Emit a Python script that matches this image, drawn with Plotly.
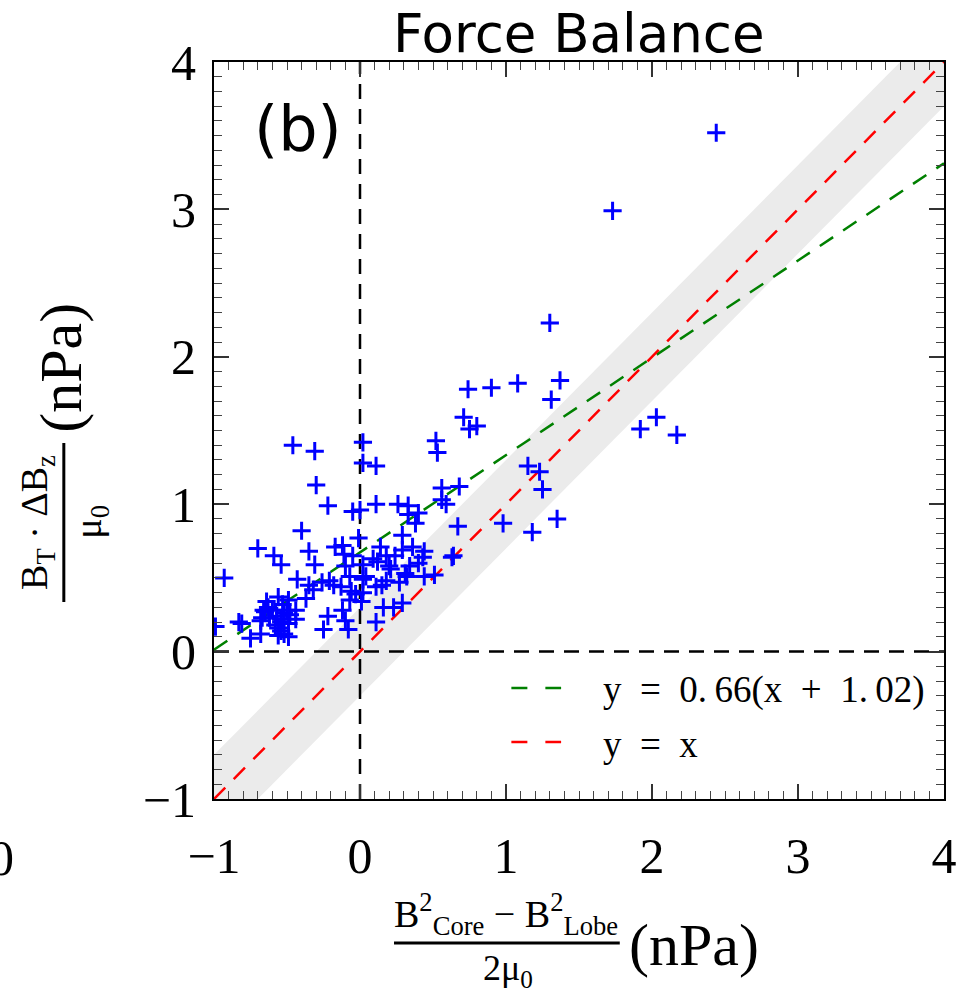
import plotly.graph_objects as go

# ---- data ----
x_vals = [
    -0.46, -0.31, 0.02, 0.02, 0.11, 0.52, 0.53, -0.30, -0.22, -0.05,
    0.00, 0.11, 0.26, 0.33, 0.33, 0.40, 0.38, 0.56, 0.56, 0.59,
    0.68, -0.40, 0.29, -0.01, -0.70, -0.59, -0.54, -0.35, -0.31, -0.17,
    -0.12, -0.11, 0.14, 0.29, 0.36, 0.44, 0.18, 0.24, 0.40, 0.43,
    -0.93, -0.43, -0.10, -0.05, 0.02, 0.09, 0.12, 0.04, 0.20, 0.21,
    0.31, 0.34, 0.44, 0.51, 0.63, -0.07, -0.35, -0.32, -0.26, -0.21,
    -0.18, -0.13, 0.02, 0.11, 0.15, 0.18, 0.27, 0.32, -0.37, -0.06,
    -0.03, 0.02, 0.01, -0.07, -0.56, -0.49, -0.64, -0.66, -0.60, -0.50,
    -0.44, -0.68, -0.62, -0.57, -0.54, -0.49, -0.44, -0.56, -0.54, -0.52,
    -0.49, -0.56, -0.68, -0.75, -0.83, -0.81, -0.99, -0.12, -0.22, -0.25,
    -0.10, -0.08, 0.11, 0.16, 0.23, 0.29, 0.64, -0.67, -0.53, -0.48,
    -0.58, -0.65, -0.54, -0.63, -0.52,
    1.30, 0.74, 0.90, 1.08, 1.37, 1.31, 0.71, 0.75, 0.80, 1.92,
    2.03, 2.17, 1.15, 1.23, 1.25, 0.67, 0.98, 1.18, 1.35, 2.44, 1.73,
]
y_vals = [
    1.40, 1.36, 1.42, 1.28, 1.26, 1.43, 1.35, 1.13, 0.99, 0.95,
    0.96, 1.00, 1.00, 0.99, 0.93, 0.94, 0.87, 1.11, 1.03, 1.00,
    1.12, 0.82, 0.79, 0.77, 0.70, 0.65, 0.59, 0.68, 0.59, 0.71,
    0.72, 0.66, 0.71, 0.69, 0.71, 0.68, 0.65, 0.65, 0.60, 0.64,
    0.50, 0.49, 0.58, 0.65, 0.59, 0.63, 0.61, 0.51, 0.58, 0.56,
    0.53, 0.58, 0.51, 0.52, 0.64, 0.51, 0.45, 0.42, 0.47, 0.48,
    0.45, 0.44, 0.49, 0.44, 0.45, 0.48, 0.47, 0.51, 0.36, 0.41,
    0.39, 0.40, 0.34, 0.35, 0.37, 0.35, 0.34, 0.28, 0.28, 0.28,
    0.28, 0.21, 0.23, 0.24, 0.20, 0.19, 0.22, 0.16, 0.14, 0.12,
    0.10, 0.11, 0.12, 0.09, 0.20, 0.19, 0.17, 0.28, 0.24, 0.15,
    0.21, 0.15, 0.20, 0.30, 0.30, 0.33, 0.65, 0.23, 0.32, 0.25,
    0.18, 0.27, 0.22, 0.30, 0.26,
    2.23, 1.78, 1.79, 1.82, 1.84, 1.71, 1.59, 1.51, 1.53, 1.51,
    1.59, 1.47, 1.26, 1.22, 1.10, 0.85, 0.87, 0.81, 0.90, 3.52, 2.99,
]

fit_slope = 0.66
fit_offset = 1.02
band_half = 0.3
x_line = [-1.0, 4.0]
x_band = [-1.5, 4.5]
x_ticks = [-1, 0, 1, 2, 3, 4]
y_ticks = [-1, 0, 1, 2, 3, 4]
legend_labels = ["y\u2002=\u20020.\u200966(x\u2002+\u20021.\u200902)", "y\u2002=\u2002x"]

SERIF = "Liberation Serif, DejaVu Serif, serif"
SANS = "DejaVu Sans, sans-serif"

fig = go.Figure()

# grey band around y = x
band_x = [x_band[0], x_band[1], x_band[1], x_band[0], x_band[0]]
band_y = [x_band[0] - band_half, x_band[1] - band_half,
          x_band[1] + band_half, x_band[0] + band_half, x_band[0] - band_half]
fig.add_trace(go.Scatter(x=band_x, y=band_y, fill="toself", fillcolor="#ebebeb",
                         line=dict(width=0), mode="lines", hoverinfo="skip",
                         showlegend=False))

# zero reference lines
fig.add_trace(go.Scatter(x=[0, 0], y=[-1, 4], mode="lines",
                         line=dict(color="black", width=2.5, dash="15px,10px"),
                         showlegend=False))
fig.add_trace(go.Scatter(x=[-1, 4], y=[0, 0], mode="lines",
                         line=dict(color="black", width=2.5, dash="15px,10px"),
                         showlegend=False))

# fit line and identity
fig.add_trace(go.Scatter(x=x_line, y=[fit_slope * (v + fit_offset) for v in x_line],
                         mode="lines", name=legend_labels[0],
                         line=dict(color="#008000", width=2.5, dash="16px,12px"),
                         showlegend=False))
fig.add_trace(go.Scatter(x=x_line, y=x_line, mode="lines", name=legend_labels[1],
                         line=dict(color="#ff0000", width=2.5, dash="16px,12px"),
                         showlegend=False))

# scatter
fig.add_trace(go.Scatter(x=x_vals, y=y_vals, mode="markers",
                         marker=dict(symbol="cross-thin", size=13,
                                     line=dict(color="#0000ff", width=3),
                                     color="#0000ff"),
                         showlegend=False))

W, H = 969, 995
L, R, T, B = 214, 21, 62, 196
pw, ph = W - L - R, H - T - B


def px(xp):
    return (xp - L) / pw


def py(yp):
    return (H - B - yp) / ph


axis_common = dict(
    showgrid=False, zeroline=False, showline=True, linecolor="black", linewidth=2,
    mirror="ticks", ticks="inside", ticklen=15, tickwidth=1.5, tickcolor="#333",
    tickfont=dict(family=SERIF, size=50, color="black"),
    minor=dict(ticks="inside", ticklen=8, tickwidth=1, tickcolor="#444", dtick=0.1,
               showgrid=False),
)

fig.update_layout(
    width=W, height=H,
    margin=dict(l=L, r=R, t=T, b=B, pad=0),
    plot_bgcolor="white", paper_bgcolor="white",
    showlegend=False,
    xaxis=dict(range=[-1, 4], tickvals=x_ticks, ticklabelstandoff=12, **axis_common),
    yaxis=dict(range=[-1, 4], tickvals=y_ticks, ticklabelstandoff=6, **axis_common),
)

ann = []
# title
ann.append(dict(text="Force Balance", x=0.5, y=py(33), xref="paper", yref="paper",
                showarrow=False, font=dict(family=SANS, size=53, color="black"),
                xanchor="center", yanchor="middle"))
# panel label
ann.append(dict(text="(b)", x=px(298), y=py(128), xref="paper", yref="paper",
                showarrow=False, font=dict(family=SANS, size=62, color="black"),
                xanchor="center", yanchor="middle"))
# stray tick label at the far left
ann.append(dict(text="0", x=px(0), y=py(858), xref="paper", yref="paper",
                showarrow=False, font=dict(family=SERIF, size=50, color="black"),
                xanchor="center", yanchor="middle"))

# x-axis label (fraction)
ann.append(dict(text="B<sup>2</sup><sub>Core</sub> − B<sup>2</sup><sub>Lobe</sub>",
                x=px(508), y=py(914), xref="paper", yref="paper", showarrow=False,
                font=dict(family=SERIF, size=38, color="black"),
                xanchor="center", yanchor="middle"))
ann.append(dict(text="2μ<sub>0</sub>", x=px(510), y=py(970), xref="paper", yref="paper",
                showarrow=False, font=dict(family=SERIF, size=36, color="black"),
                xanchor="center", yanchor="middle"))
ann.append(dict(text="(nPa)", x=px(697), y=py(945), xref="paper", yref="paper",
                showarrow=False, font=dict(family=SERIF, size=60, color="black"),
                xanchor="center", yanchor="middle"))

# y-axis label (fraction, rotated)
ann.append(dict(text="B<sub>T</sub> · ΔB<sub>z</sub>", x=px(36), y=py(522),
                xref="paper", yref="paper", showarrow=False, textangle=-90,
                font=dict(family=SERIF, size=38, color="black"),
                xanchor="center", yanchor="middle"))
ann.append(dict(text="μ<sub>0</sub>", x=px(90), y=py(522), xref="paper", yref="paper",
                showarrow=False, textangle=-90,
                font=dict(family=SERIF, size=38, color="black"),
                xanchor="center", yanchor="middle"))
ann.append(dict(text="(nPa)", x=px(60), y=py(368), xref="paper", yref="paper",
                showarrow=False, textangle=-90,
                font=dict(family=SERIF, size=60, color="black"),
                xanchor="center", yanchor="middle"))

# legend texts
ann.append(dict(text=legend_labels[0], x=px(603), y=py(690), xref="paper", yref="paper",
                showarrow=False, font=dict(family=SERIF, size=37, color="black"),
                xanchor="left", yanchor="middle"))
ann.append(dict(text=legend_labels[1], x=px(603), y=py(744), xref="paper", yref="paper",
                showarrow=False, font=dict(family=SERIF, size=37, color="black"),
                xanchor="left", yanchor="middle"))

fig.update_layout(annotations=ann)

shapes = [
    dict(type="line", xref="paper", yref="paper", x0=px(395), x1=px(622),
         y0=py(943), y1=py(943), line=dict(color="black", width=3)),
    dict(type="line", xref="paper", yref="paper", x0=px(63), x1=px(63),
         y0=py(602), y1=py(443), line=dict(color="black", width=3)),
    dict(type="line", xref="paper", yref="paper", x0=px(513), x1=px(563),
         y0=py(688), y1=py(688), line=dict(color="#008000", width=2.5, dash="16px,18px")),
    dict(type="line", xref="paper", yref="paper", x0=px(513), x1=px(563),
         y0=py(742), y1=py(742), line=dict(color="#ff0000", width=2.5, dash="16px,18px")),
]
fig.update_layout(shapes=shapes)

fig.write_html("out.html")
